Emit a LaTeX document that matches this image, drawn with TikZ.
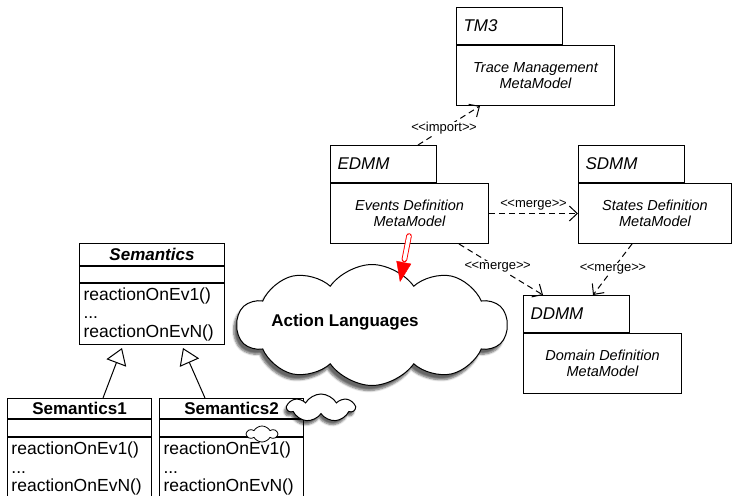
\documentclass[tikz,border=0pt]{standalone}
\usepackage{fontspec}
\setmainfont{Liberation Sans}
\usetikzlibrary{arrows.meta,calc,shapes.symbols,shadows.blur}
\newcommand\stereo[1]{<\kern-.5pt<#1>\kern-.5pt>}
\tikzset{
  pkgtab/.style={draw, line width=1pt, anchor=north west, inner xsep=7pt, inner ysep=0pt,
    text width=92pt, minimum height=37pt, align=left, font=\itshape\fontsize{17}{20}\selectfont},
  pkgbody/.style={draw, line width=1pt, anchor=north west, minimum width=158pt, minimum height=60pt,
    align=center, font=\itshape\fontsize{14.5}{16}\selectfont},
  clshead/.style={draw, line width=1pt, anchor=north west, minimum width=145pt, minimum height=22pt,
    inner sep=0pt, font=\bfseries\fontsize{17}{18}\selectfont},
  clsattr/.style={draw, line width=1pt, anchor=north west, minimum width=145pt, minimum height=16pt, inner sep=0pt},
  clsops/.style={draw, line width=1pt, anchor=north west, inner xsep=4pt, inner ysep=2pt, text width=137pt,
    minimum height=61pt, align=left, font=\fontsize{17.5}{18.5}\selectfont},
  puff/.style={cloud, cloud ignores aspect, draw, line width=1pt, fill=white},
  merge/.style={line width=1pt, dash pattern=on 6pt off 4pt, -{Straight Barb[length=8pt,width=15pt]}},
  stlbl/.style={fill=white, inner sep=1pt, font=\fontsize{13}{15}\selectfont},
  genarrow/.style={line width=1pt, -{Triangle[open, fill=white, length=16pt, width=21pt]}},
}
\begin{document}
\begin{tikzpicture}[x=1pt,y=-1pt]
  \useasboundingbox (0,0) rectangle (732,496);
  % packages
  \node[pkgtab] (tm3tab) at (456,7) {TM3};
  \node[pkgbody] (tm3) at (tm3tab.south west) {Trace Management\\MetaModel};
  \node[pkgtab] (edmmtab) at (330,145) {EDMM};
  \node[pkgbody] (edmm) at (edmmtab.south west) {Events Definition\\MetaModel};
  \node[pkgtab] (sdmmtab) at (578,145) {SDMM};
  \node[pkgbody, minimum width=153pt] (sdmm) at (sdmmtab.south west) {States Definition\\MetaModel};
  \node[pkgtab] (ddmmtab) at (523,295) {DDMM};
  \node[pkgbody] (ddmm) at (ddmmtab.south west) {Domain Definition\\MetaModel};
  % classes
  \node[clshead] (semhead) at (79,243) {\itshape Semantics};
  \node[clsattr] (semattr) at (semhead.south west) {};
  \node[clsops] (semops) at (semattr.south west) {reactionOnEv1()\\...\\reactionOnEvN()};
  \node[clshead, minimum width=144pt, minimum height=20pt] (sem1head) at (7,398) {Semantics1};
  \node[clsattr, minimum width=144pt, minimum height=17pt] (sem1attr) at (sem1head.south west) {};
  \node[clsops, text width=136pt, minimum height=62pt] (sem1ops) at (sem1attr.south west) {reactionOnEv1()\\...\\reactionOnEvN()};
  \node[clshead, minimum width=144pt, minimum height=20pt] (sem2head) at (159,398) {Semantics2};
  \node[clsattr, minimum width=144pt, minimum height=17pt] (sem2attr) at (sem2head.south west) {};
  \node[clsops, text width=136pt, minimum height=62pt] (sem2ops) at (sem2attr.south west) {reactionOnEv1()\\...\\reactionOnEvN()};
  % clouds
  \node[puff, cloud puffs=10, cloud puff arc=110, minimum width=270pt, minimum height=121pt,
    blur shadow={shadow xshift=-3pt, shadow yshift=-5pt, shadow blur steps=6, shadow opacity=60}] (alcloud) at (372,325) {};
  \node[font=\bfseries\fontsize{17}{20}\selectfont] (altext) at (345,322) {Action Languages};
  \node[puff, cloud puffs=7, cloud puff arc=120, minimum width=67pt, minimum height=28pt,
    blur shadow={shadow xshift=-2pt, shadow yshift=-4pt, shadow blur steps=5, shadow opacity=60}] (smcloud) at (321,408) {};
  \node[puff, line width=.8pt, cloud puffs=6, cloud puff arc=120, minimum width=30pt, minimum height=16pt] (tinycloud) at (262,434) {};
  \coordinate (altip) at (400,282);
  \begin{scope}[merge]
    \draw ([xshift=88pt]edmmtab.north west) -- node[stlbl, pos=.42] {\stereo{import}} ([xshift=24pt]tm3.south west);
    \draw (edmm.east) -- node[stlbl, above=2pt] {\stereo{merge}} (sdmm.west);
    \draw ([xshift=129pt]edmm.south west) -- node[stlbl, pos=.46] {\stereo{merge}} ([xshift=20pt]ddmmtab.north west);
    \draw ([xshift=54pt]sdmm.south west) -- node[stlbl, pos=.49] {\stereo{merge}} ([xshift=70pt]ddmmtab.north west);
  \end{scope}
  \draw[genarrow] ([xshift=96pt]sem1head.north west) -- ([xshift=43pt,yshift=-3pt]semops.south west);
  \draw[genarrow] ([xshift=46pt]sem2head.north west) -- ([xshift=104pt,yshift=-3pt]semops.south west);
  \draw[red, line width=.9pt, line cap=round, double=white, double distance=3.8pt, shorten >=23pt]
    ([xshift=79pt,yshift=8pt]edmm.south west) -- (altip);
  \draw[red, -{Triangle[length=20pt,width=15pt]}]
    ($(altip)!20pt!([xshift=79pt,yshift=8pt]edmm.south west)$) -- (altip);
\end{tikzpicture}
\end{document}
